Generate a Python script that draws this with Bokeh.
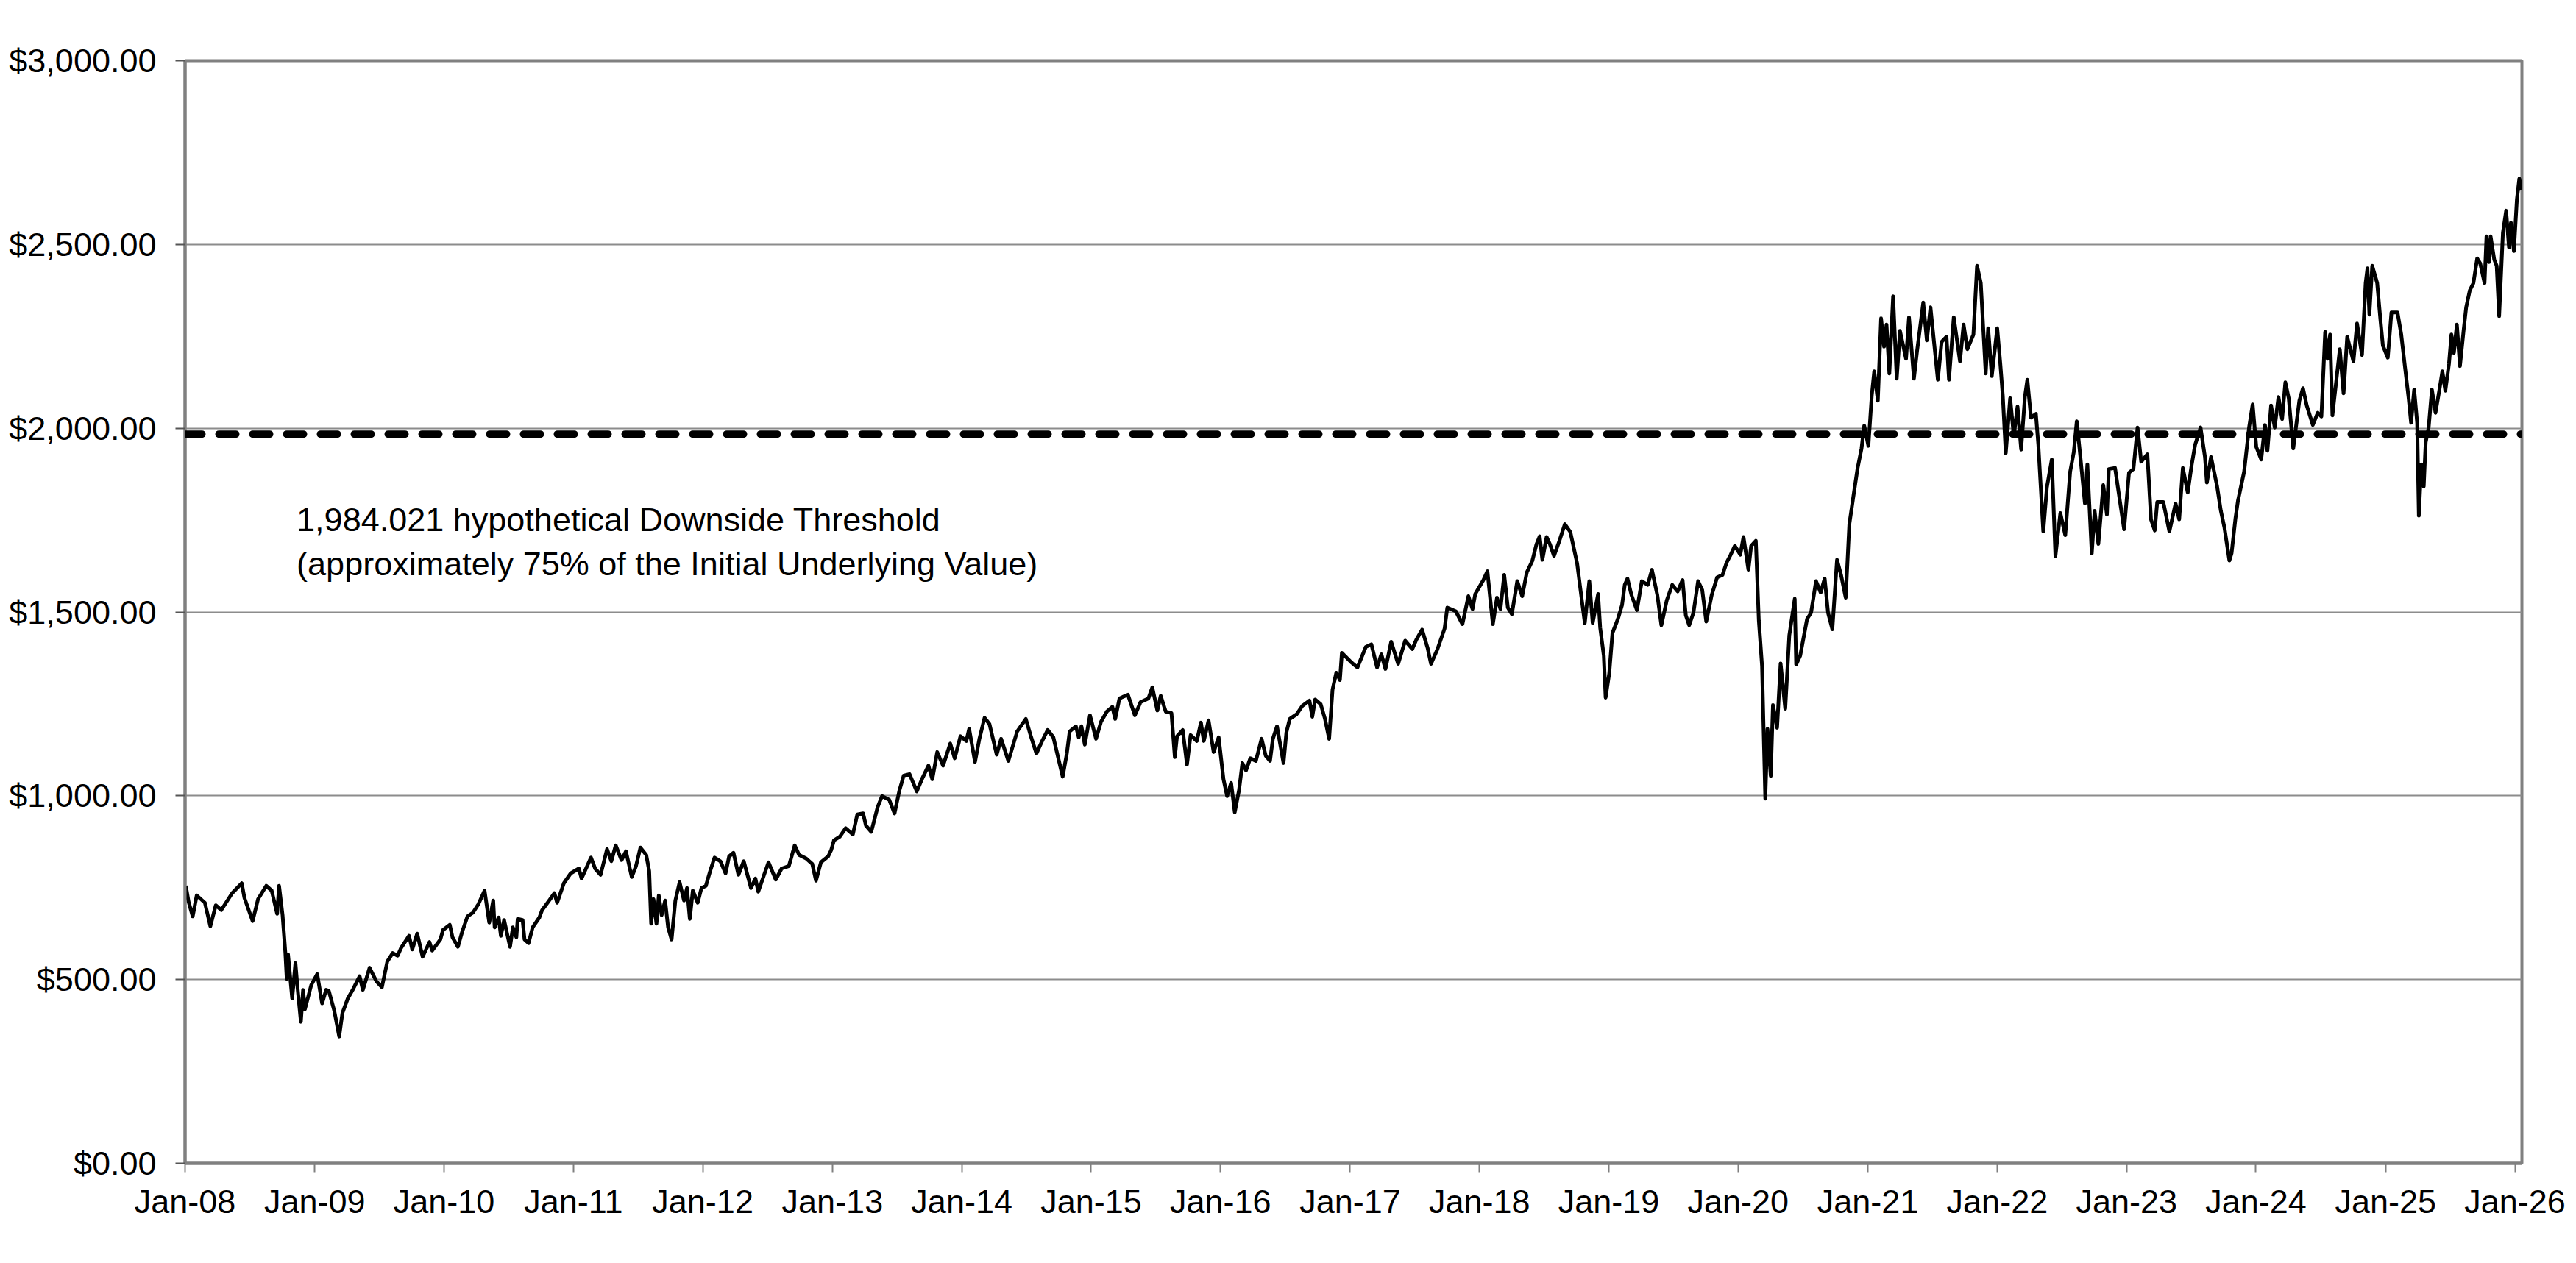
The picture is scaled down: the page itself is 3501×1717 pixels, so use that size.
from datetime import datetime
from bokeh.plotting import figure
from bokeh.models import (Span, Label, FixedTicker, DatetimeTickFormatter,
                          NumeralTickFormatter, Range1d, ColumnDataSource)
from bokeh.embed import file_html
from bokeh.resources import INLINE

# ---------------- data ----------------
threshold = 1984.021
y_ticks = [0, 500, 1000, 1500, 2000, 2500, 3000]
tick_years = list(range(2008, 2027))
annotation_lines = ["1,984.021 hypothetical Downside Threshold",
                    "(approximately 75% of the Initial Underlying Value)"]

# time as decimal year, index level in $
t_year = [
    2008.006, 2008.027, 2008.059, 2008.090, 2008.153, 2008.195, 2008.237, 2008.279, 2008.363, 2008.437,
    2008.458, 2008.521, 2008.563, 2008.626, 2008.668, 2008.710, 2008.725, 2008.752, 2008.773, 2008.784,
    2008.794, 2008.826, 2008.851, 2008.868, 2008.893, 2008.910, 2008.924, 2008.973, 2009.019, 2009.057,
    2009.088, 2009.109, 2009.151, 2009.189, 2009.214, 2009.256, 2009.298, 2009.347, 2009.372, 2009.424,
    2009.477, 2009.519, 2009.561, 2009.603, 2009.641, 2009.666, 2009.729, 2009.754, 2009.792, 2009.834,
    2009.887, 2009.908, 2009.971, 2009.992, 2010.044, 2010.065, 2010.107, 2010.139, 2010.181, 2010.223,
    2010.265, 2010.313, 2010.349, 2010.380, 2010.391, 2010.422, 2010.439, 2010.464, 2010.510, 2010.532,
    2010.559, 2010.569, 2010.607, 2010.622, 2010.653, 2010.685, 2010.737, 2010.758, 2010.800, 2010.853,
    2010.874, 2010.926, 2010.979, 2011.042, 2011.063, 2011.136, 2011.168, 2011.210,
    2011.260, 2011.293, 2011.327, 2011.372, 2011.406, 2011.451, 2011.484, 2011.518, 2011.563, 2011.586,
    2011.601, 2011.619, 2011.642, 2011.660, 2011.682, 2011.709, 2011.732, 2011.759, 2011.788, 2011.821,
    2011.855, 2011.878, 2011.900, 2011.923, 2011.961, 2011.990, 2012.024, 2012.057, 2012.091, 2012.136,
    2012.176, 2012.203, 2012.237, 2012.275, 2012.316, 2012.372, 2012.406, 2012.428, 2012.473, 2012.507,
    2012.563, 2012.608, 2012.664, 2012.709, 2012.743, 2012.799, 2012.844, 2012.873, 2012.911, 2012.967,
    2012.990, 2013.012, 2013.057, 2013.102, 2013.158, 2013.192, 2013.237, 2013.259, 2013.300, 2013.349,
    2013.383, 2013.439, 2013.480, 2013.518, 2013.551, 2013.596, 2013.652, 2013.697, 2013.742, 2013.772,
    2013.810, 2013.855, 2013.911, 2013.945, 2013.990, 2014.035, 2014.057, 2014.102, 2014.136, 2014.176,
    2014.214, 2014.270, 2014.304, 2014.360, 2014.428, 2014.495,
    2014.534, 2014.577, 2014.621, 2014.664, 2014.708, 2014.751, 2014.780, 2014.812, 2014.834, 2014.882,
    2014.904, 2014.925, 2014.951, 2014.991, 2015.038, 2015.077, 2015.121, 2015.164, 2015.186, 2015.219,
    2015.284, 2015.338, 2015.382, 2015.443, 2015.473, 2015.512, 2015.538, 2015.577, 2015.621, 2015.647,
    2015.664, 2015.708, 2015.741, 2015.769, 2015.817, 2015.849, 2015.871, 2015.908, 2015.947, 2015.986,
    2016.023, 2016.051, 2016.082, 2016.110, 2016.143, 2016.169, 2016.197, 2016.230, 2016.273, 2016.317,
    2016.349, 2016.382, 2016.404, 2016.436, 2016.458, 2016.486, 2016.508, 2016.534, 2016.588, 2016.632,
    2016.686, 2016.708, 2016.730, 2016.773, 2016.806, 2016.838, 2016.864, 2016.893, 2016.921, 2016.936,
    2017.012, 2017.056, 2017.121, 2017.164, 2017.208, 2017.241, 2017.273, 2017.317, 2017.371, 2017.425,
    2017.480, 2017.512, 2017.556, 2017.599, 2017.625, 2017.675, 2017.730, 2017.751, 2017.817,
    2017.868, 2017.914, 2017.946, 2017.967, 2018.030, 2018.061, 2018.103, 2018.135, 2018.162, 2018.191,
    2018.219, 2018.250, 2018.292, 2018.330, 2018.366, 2018.408, 2018.440, 2018.465, 2018.486, 2018.519,
    2018.545, 2018.576, 2018.618, 2018.660, 2018.702, 2018.755, 2018.786, 2018.814, 2018.849, 2018.875,
    2018.917, 2018.933, 2018.961, 2018.975, 2019.003, 2019.028, 2019.070, 2019.102, 2019.123, 2019.144,
    2019.175, 2019.217, 2019.255, 2019.301, 2019.333, 2019.375, 2019.406, 2019.448, 2019.490, 2019.532,
    2019.570, 2019.595, 2019.621, 2019.654, 2019.690, 2019.722, 2019.753, 2019.795, 2019.837, 2019.879,
    2019.911, 2019.942, 2019.974, 2020.016, 2020.041, 2020.079, 2020.100, 2020.136, 2020.159, 2020.184,
    2020.209, 2020.226, 2020.251, 2020.268, 2020.300, 2020.327, 2020.363, 2020.394, 2020.436, 2020.447,
    2020.478, 2020.531, 2020.562, 2020.600, 2020.636, 2020.667, 2020.693, 2020.726, 2020.762, 2020.793,
    2020.829, 2020.857, 2020.888, 2020.920, 2020.951, 2020.972, 2021.004,
    2021.030, 2021.049, 2021.077, 2021.102, 2021.125, 2021.144, 2021.166, 2021.195, 2021.223, 2021.248,
    2021.295, 2021.318, 2021.356, 2021.380, 2021.428, 2021.456, 2021.484, 2021.541, 2021.570, 2021.608,
    2021.627, 2021.664, 2021.712, 2021.740, 2021.769, 2021.816, 2021.844, 2021.873, 2021.911, 2021.930,
    2021.958, 2022.000, 2022.024, 2022.043, 2022.066, 2022.100, 2022.128, 2022.157, 2022.185, 2022.214,
    2022.233, 2022.261, 2022.299, 2022.318, 2022.333, 2022.356, 2022.384, 2022.422, 2022.450, 2022.488,
    2022.526, 2022.564, 2022.592, 2022.615, 2022.643, 2022.678, 2022.697, 2022.731, 2022.753, 2022.782,
    2022.820, 2022.848, 2022.863, 2022.911, 2022.943, 2022.981, 2023.019, 2023.053, 2023.085, 2023.113,
    2023.161, 2023.189, 2023.218, 2023.237, 2023.284, 2023.331, 2023.379, 2023.407, 2023.435, 2023.473,
    2023.501, 2023.530, 2023.572, 2023.606, 2023.621,
    2023.653, 2023.700, 2023.729, 2023.757, 2023.795, 2023.812, 2023.842, 2023.861, 2023.909, 2023.947,
    2023.975, 2024.003, 2024.041, 2024.070, 2024.089, 2024.117, 2024.145, 2024.174, 2024.202, 2024.227,
    2024.253, 2024.288, 2024.335, 2024.363, 2024.392, 2024.439, 2024.477, 2024.505, 2024.534, 2024.553,
    2024.572, 2024.590, 2024.628, 2024.647, 2024.676, 2024.704, 2024.752, 2024.780, 2024.818, 2024.846,
    2024.860, 2024.875, 2024.897, 2024.935, 2024.960, 2024.979, 2025.017, 2025.045, 2025.092, 2025.121,
    2025.149, 2025.178, 2025.197, 2025.221, 2025.244, 2025.257, 2025.276, 2025.295, 2025.310, 2025.333,
    2025.358, 2025.386, 2025.415, 2025.439, 2025.462, 2025.490, 2025.509, 2025.528, 2025.551, 2025.575,
    2025.604, 2025.623, 2025.651, 2025.679, 2025.708, 2025.731, 2025.765, 2025.780, 2025.799, 2025.812,
    2025.840, 2025.859, 2025.878, 2025.907, 2025.932, 2025.954, 2025.969, 2025.992, 2026.015, 2026.034,
    2026.049,
]

value = [
    755, 712, 672, 729, 709, 645, 702, 689, 735, 762,
    722, 659, 719, 755, 742, 679, 755, 675, 575, 502,
    569, 449, 545, 475, 385, 472, 419, 485, 515, 435,
    472, 469, 415, 345, 409, 449, 475, 509, 472, 532,
    495, 479, 549, 572, 565, 585, 619, 582, 625, 562,
    602, 579, 609, 635, 649, 615, 589, 629, 672, 682,
    705, 742, 655, 715, 642, 669, 619, 662, 589, 642,
    615, 665, 662, 609, 599, 642, 669, 689, 709, 735,
    709, 762, 789, 802, 775, 832, 802, 785,
    855, 822, 865, 825, 849, 779, 809, 859, 839, 795,
    652, 719, 652, 729, 675, 715, 642, 609, 715, 765,
    715, 749, 665, 742, 709, 749, 755, 795, 832, 822,
    789, 835, 845, 785, 822, 749, 775, 739, 785, 819,
    772, 802, 809, 865, 839, 829, 815, 769, 819, 835,
    852, 879, 889, 912, 895, 949, 952, 919, 902, 969,
    999, 989, 952, 1015, 1055, 1059, 1012, 1049, 1082, 1045,
    1119, 1082, 1142, 1102, 1162, 1149, 1182, 1092, 1155, 1212,
    1195, 1112, 1155, 1095, 1175, 1209,
    1162, 1115, 1149, 1179, 1159, 1095, 1052, 1115, 1175, 1189,
    1159, 1189, 1139, 1219, 1155, 1202, 1229, 1242, 1209, 1265,
    1275, 1219, 1255, 1265, 1295, 1232, 1272, 1229, 1225, 1105,
    1162, 1179, 1085, 1165, 1149, 1199, 1149, 1205, 1119, 1159,
    1045, 999, 1035, 955, 1015, 1089, 1069, 1102, 1095, 1155,
    1109, 1095, 1155, 1189, 1145, 1089, 1172, 1209, 1222, 1245,
    1259, 1215, 1262, 1249, 1209, 1155, 1289, 1335, 1315, 1389,
    1362, 1349, 1405, 1412, 1349, 1385, 1345, 1419, 1359, 1422,
    1399, 1425, 1452, 1402, 1359, 1399, 1455, 1512, 1502,
    1467, 1543, 1508, 1549, 1587, 1611, 1467, 1539, 1508, 1601,
    1512, 1494, 1584, 1543, 1608, 1639, 1684, 1706, 1642, 1704,
    1684, 1653, 1694, 1739, 1718, 1632, 1546, 1470, 1584, 1470,
    1549, 1457, 1381, 1267, 1333, 1443, 1481, 1519, 1574, 1591,
    1546, 1505, 1584, 1574, 1615, 1546, 1464, 1532, 1574, 1556,
    1587, 1491, 1464, 1498, 1584, 1560, 1474, 1546, 1594, 1601,
    1635, 1656, 1680, 1656, 1704, 1615, 1680, 1694, 1477, 1353,
    992, 1182, 1054, 1247, 1185, 1360, 1237, 1436, 1536, 1357,
    1381, 1481, 1498, 1584, 1553, 1591, 1498, 1453, 1642, 1601,
    1539, 1739, 1814, 1890, 1945, 2007, 1952,
    2089, 2155, 2075, 2299, 2222, 2282, 2149, 2359, 2135, 2265,
    2189, 2302, 2135, 2209, 2342, 2239, 2329, 2132, 2235, 2249,
    2132, 2302, 2182, 2282, 2215, 2255, 2442, 2395, 2149, 2272,
    2142, 2272, 2175, 2089, 1932, 2082, 1979, 2059, 1942, 2085,
    2132, 2029, 2039, 1955, 1862, 1719, 1839, 1915, 1652, 1769,
    1709, 1882, 1935, 2019, 1922, 1795, 1902, 1659, 1775, 1685,
    1845, 1765, 1889, 1892, 1815, 1725, 1879, 1889, 2002, 1909,
    1929, 1752, 1722, 1799, 1799, 1719, 1795, 1752, 1892, 1825,
    1895, 1955, 2002, 1922, 1852,
    1922, 1842, 1775, 1729, 1640, 1660, 1755, 1802, 1882, 2002,
    2065, 1949, 1915, 2009, 1939, 2062, 2002, 2085, 2025, 2125,
    2082, 1945, 2075, 2109, 2062, 2009, 2042, 2032, 2262, 2189,
    2255, 2035, 2155, 2215, 2095, 2249, 2182, 2285, 2199, 2395,
    2435, 2309, 2442, 2395, 2295, 2225, 2192, 2315, 2315, 2255,
    2169, 2082, 2015, 2105, 2015, 1762, 1902, 1842, 1962, 2002,
    2105, 2042, 2102, 2155, 2102, 2175, 2255, 2205, 2282, 2169,
    2269, 2329, 2375, 2395, 2462, 2449, 2395, 2522, 2452, 2522,
    2459, 2442, 2305, 2532, 2592, 2492, 2559, 2482, 2622, 2679,
    2649,
]


def to_date(t):
    y = int(t)
    start = datetime(y, 1, 1)
    nxt = datetime(y + 1, 1, 1)
    return start + (nxt - start) * (t - y)


def ms(d):
    return (d - datetime(1970, 1, 1)).total_seconds() * 1000.0


FONT = "Liberation Sans"
FS = "45px"
GRID = "#8c8c8c"
FRAME = "#808080"

src = ColumnDataSource(data=dict(date=[to_date(t) for t in t_year], value=value))

p = figure(width=3490, height=1700, x_axis_type="datetime",
           output_backend="svg", toolbar_location=None,
           x_range=Range1d(to_date(2008.0), to_date(2026.054)),
           y_range=Range1d(0, 3000),
           min_border_left=251, min_border_right=63,
           min_border_top=82, min_border_bottom=119)

p.background_fill_color = "white"
p.border_fill_color = "white"
p.outline_line_color = FRAME
p.outline_line_width = 4

# grid
p.xgrid.grid_line_color = None
p.ygrid.grid_line_color = GRID
p.ygrid.grid_line_width = 2
p.ygrid.ticker = FixedTicker(ticks=y_ticks)

# y axis
p.yaxis.ticker = FixedTicker(ticks=y_ticks)
p.yaxis.formatter = NumeralTickFormatter(format="$0,0.00")
p.yaxis.axis_line_color = FRAME
p.yaxis.axis_line_width = 4
p.yaxis.major_tick_line_color = "#555555"
p.yaxis.major_tick_line_width = 2
p.yaxis.major_tick_out = 13
p.yaxis.major_tick_in = 0
p.yaxis.minor_tick_line_color = None
p.yaxis.major_label_standoff = 26
p.yaxis.major_label_text_font = FONT
p.yaxis.major_label_text_font_size = FS
p.yaxis.major_label_text_color = "black"

# x axis
p.xaxis.ticker = FixedTicker(ticks=[ms(datetime(y, 1, 1)) for y in tick_years])
fmt = "%b-%y"
p.xaxis.formatter = DatetimeTickFormatter(years=fmt, months=fmt, days=fmt, hours=fmt,
                                          hourmin=fmt, minutes=fmt, minsec=fmt,
                                          seconds=fmt, milliseconds=fmt,
                                          microseconds=fmt)
p.xaxis.axis_line_color = FRAME
p.xaxis.axis_line_width = 4
p.xaxis.major_tick_line_color = FRAME
p.xaxis.major_tick_line_width = 2
p.xaxis.major_tick_out = 12
p.xaxis.major_tick_in = 0
p.xaxis.minor_tick_line_color = None
p.xaxis.major_label_standoff = 14
p.xaxis.major_label_text_font = FONT
p.xaxis.major_label_text_font_size = FS
p.xaxis.major_label_text_color = "black"

# series
p.line("date", "value", source=src, line_color="black", line_width=5,
       line_join="round")

# threshold
p.add_layout(Span(location=threshold, dimension="width", line_color="black",
                  line_width=10, line_dash="23 23", line_cap="round"))

# annotation
for i, txt in enumerate(annotation_lines):
    p.add_layout(Label(x=to_date(2008.86), y=1752 - 120 * i, text=txt,
                       text_font=FONT, text_font_size=FS, text_color="black",
                       text_baseline="alphabetic", text_align="left"))

open("out.html", "w").write(file_html(p, INLINE))
